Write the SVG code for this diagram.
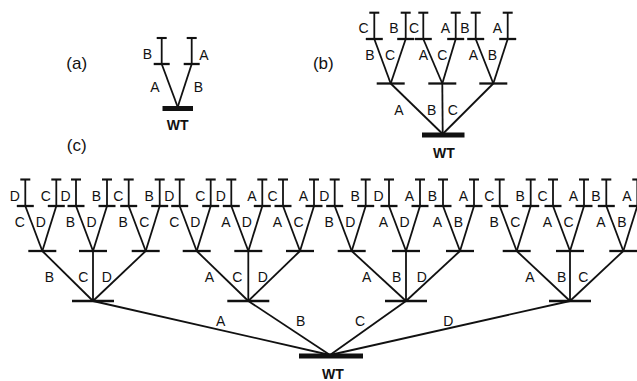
<svg xmlns="http://www.w3.org/2000/svg" width="637" height="381" viewBox="0 0 637 381">
<style>
.bar{stroke:#111;stroke-width:2.3;fill:none}
.tk{stroke:#111;stroke-width:2.1;fill:none}
.wt{stroke:#111;stroke-width:5;fill:none}
.e line{stroke:#111;stroke-width:1.8}
text{font-family:"Liberation Sans",Arial,sans-serif;font-size:14px;fill:#111;text-anchor:middle}
.wtl{font-weight:bold;font-size:14px}
.pl{font-size:17px}
</style>
<rect width="637" height="381" fill="#fff"/>
<!-- panel labels -->
<text class="pl" x="76.7" y="68.5">(a)</text>
<text class="pl" x="323.3" y="68.5">(b)</text>
<text class="pl" x="76.7" y="150.5">(c)</text>

<!-- ===== (a) ===== -->
<g id="a-connectors" class="e">
<line x1="177.7" y1="107" x2="161.7" y2="64"/>
<line x1="177.7" y1="107" x2="191.7" y2="64"/>
<line x1="161.7" y1="64" x2="161.7" y2="38"/>
<line x1="191.7" y1="64" x2="191.7" y2="38"/>
</g>
<g id="a-wt"><line class="wt" x1="162.5" y1="108.5" x2="193" y2="108.5"/><text class="wtl" x="177.7" y="130">WT</text></g>
<g id="a-A"><line class="bar" x1="153.7" y1="64" x2="169.7" y2="64"/></g>
<g id="a-B"><line class="bar" x1="183.7" y1="64" x2="199.7" y2="64"/></g>
<g id="a-AB"><line class="tk" x1="156.7" y1="38" x2="166.7" y2="38"/></g>
<g id="a-BA"><line class="tk" x1="186.7" y1="38" x2="196.7" y2="38"/></g>
<g id="a-labels">
<text x="147.3" y="59">B</text><text x="204" y="59.5">A</text>
<text x="155" y="92">A</text><text x="198.3" y="92">B</text>
</g>

<!-- ===== (b) ===== -->
<g id="b-connectors" class="e">
<line x1="442.7" y1="134" x2="390.7" y2="83.5"/>
<line x1="442.7" y1="134" x2="442.3" y2="83.5"/>
<line x1="442.7" y1="134" x2="493.3" y2="83.5"/>
<line x1="390.7" y1="83.5" x2="374.3" y2="39"/>
<line x1="390.7" y1="83.5" x2="405.7" y2="39"/>
<line x1="442.3" y1="83.5" x2="423.3" y2="39"/>
<line x1="442.3" y1="83.5" x2="455.7" y2="39"/>
<line x1="493.3" y1="83.5" x2="475.7" y2="39"/>
<line x1="493.3" y1="83.5" x2="507.7" y2="39"/>
<line x1="374.3" y1="39" x2="374.3" y2="12.7"/>
<line x1="405.7" y1="39" x2="405.7" y2="12.7"/>
<line x1="423.3" y1="39" x2="423.3" y2="12.7"/>
<line x1="455.7" y1="39" x2="455.7" y2="12.7"/>
<line x1="475.7" y1="39" x2="475.7" y2="12.7"/>
<line x1="507.7" y1="39" x2="507.7" y2="12.7"/>
</g>
<g id="b-wt"><line class="wt" x1="422" y1="135" x2="464.5" y2="135"/><text class="wtl" x="444" y="158">WT</text></g>
<g id="b-A"><line class="bar" x1="376.7" y1="83.5" x2="404.7" y2="83.5"/></g>
<g id="b-B"><line class="bar" x1="428.3" y1="83.5" x2="456.3" y2="83.5"/></g>
<g id="b-C"><line class="bar" x1="479.3" y1="83.5" x2="507.3" y2="83.5"/></g>
<g id="b-AB"><line class="bar" x1="365.8" y1="39" x2="382.8" y2="39"/></g>
<g id="b-AC"><line class="bar" x1="397.2" y1="39" x2="414.2" y2="39"/></g>
<g id="b-BA"><line class="bar" x1="414.8" y1="39" x2="431.8" y2="39"/></g>
<g id="b-BC"><line class="bar" x1="447.2" y1="39" x2="464.2" y2="39"/></g>
<g id="b-CA"><line class="bar" x1="467.2" y1="39" x2="484.2" y2="39"/></g>
<g id="b-CB"><line class="bar" x1="499.2" y1="39" x2="516.2" y2="39"/></g>
<g id="b-ABC"><line class="tk" x1="369.3" y1="12.7" x2="379.3" y2="12.7"/></g>
<g id="b-ACB"><line class="tk" x1="400.7" y1="12.7" x2="410.7" y2="12.7"/></g>
<g id="b-BAC"><line class="tk" x1="418.3" y1="12.7" x2="428.3" y2="12.7"/></g>
<g id="b-BCA"><line class="tk" x1="450.7" y1="12.7" x2="460.7" y2="12.7"/></g>
<g id="b-CAB"><line class="tk" x1="470.7" y1="12.7" x2="480.7" y2="12.7"/></g>
<g id="b-CBA"><line class="tk" x1="502.7" y1="12.7" x2="512.7" y2="12.7"/></g>
<g id="b-labels">
<text x="363.5" y="33">C</text><text x="394" y="33">B</text><text x="414" y="33">C</text><text x="445.5" y="33">A</text><text x="465" y="33">B</text><text x="497.5" y="33">A</text>
<text x="370" y="59.5">B</text><text x="390" y="59.5">C</text><text x="423.3" y="59.5">A</text><text x="442.3" y="59.5">C</text><text x="473.3" y="59.5">A</text><text x="492.3" y="59.5">B</text>
<text x="399" y="115">A</text><text x="431.7" y="115">B</text><text x="452.7" y="115">C</text>
</g>

<!-- ===== (c) ===== -->
<g id="c-connectors" class="e">
<line x1="330" y1="355" x2="93" y2="301"/>
<line x1="330" y1="355" x2="248.3" y2="301"/>
<line x1="330" y1="355" x2="406" y2="301"/>
<line x1="330" y1="355" x2="570" y2="301"/>
<line x1="93" y1="301" x2="42.3" y2="251"/><line x1="93" y1="301" x2="93" y2="251"/><line x1="93" y1="301" x2="145.7" y2="251"/>
<line x1="248.3" y1="301" x2="196.7" y2="251"/><line x1="248.3" y1="301" x2="248.3" y2="251"/><line x1="248.3" y1="301" x2="300" y2="251"/>
<line x1="406" y1="301" x2="351.7" y2="251"/><line x1="406" y1="301" x2="406" y2="251"/><line x1="406" y1="301" x2="460" y2="251"/>
<line x1="570" y1="301" x2="516.7" y2="251"/><line x1="570" y1="301" x2="570" y2="251"/><line x1="570" y1="301" x2="623.3" y2="251"/>
<line x1="42.3" y1="251" x2="25.3" y2="206"/><line x1="42.3" y1="251" x2="56.3" y2="206"/>
<line x1="93" y1="251" x2="76" y2="206"/><line x1="93" y1="251" x2="107" y2="206"/>
<line x1="145.7" y1="251" x2="128.7" y2="206"/><line x1="145.7" y1="251" x2="159.7" y2="206"/>
<line x1="196.7" y1="251" x2="179.7" y2="206"/><line x1="196.7" y1="251" x2="210.7" y2="206"/>
<line x1="248.3" y1="251" x2="231.3" y2="206"/><line x1="248.3" y1="251" x2="262.3" y2="206"/>
<line x1="300" y1="251" x2="283" y2="206"/><line x1="300" y1="251" x2="314" y2="206"/>
<line x1="351.7" y1="251" x2="334.7" y2="206"/><line x1="351.7" y1="251" x2="365.7" y2="206"/>
<line x1="406" y1="251" x2="389" y2="206"/><line x1="406" y1="251" x2="420" y2="206"/>
<line x1="460" y1="251" x2="443" y2="206"/><line x1="460" y1="251" x2="474" y2="206"/>
<line x1="516.7" y1="251" x2="499.7" y2="206"/><line x1="516.7" y1="251" x2="530.7" y2="206"/>
<line x1="570" y1="251" x2="553" y2="206"/><line x1="570" y1="251" x2="584" y2="206"/>
<line x1="623.3" y1="251" x2="606.3" y2="206"/><line x1="623.3" y1="251" x2="637.3" y2="206"/>
<line x1="25.3" y1="206" x2="25.3" y2="179.5"/><line x1="56.3" y1="206" x2="56.3" y2="179.5"/>
<line x1="76" y1="206" x2="76" y2="179.5"/><line x1="107" y1="206" x2="107" y2="179.5"/>
<line x1="128.7" y1="206" x2="128.7" y2="179.5"/><line x1="159.7" y1="206" x2="159.7" y2="179.5"/>
<line x1="179.7" y1="206" x2="179.7" y2="179.5"/><line x1="210.7" y1="206" x2="210.7" y2="179.5"/>
<line x1="231.3" y1="206" x2="231.3" y2="179.5"/><line x1="262.3" y1="206" x2="262.3" y2="179.5"/>
<line x1="283" y1="206" x2="283" y2="179.5"/><line x1="314" y1="206" x2="314" y2="179.5"/>
<line x1="334.7" y1="206" x2="334.7" y2="179.5"/><line x1="365.7" y1="206" x2="365.7" y2="179.5"/>
<line x1="389" y1="206" x2="389" y2="179.5"/><line x1="420" y1="206" x2="420" y2="179.5"/>
<line x1="443" y1="206" x2="443" y2="179.5"/><line x1="474" y1="206" x2="474" y2="179.5"/>
<line x1="499.7" y1="206" x2="499.7" y2="179.5"/><line x1="530.7" y1="206" x2="530.7" y2="179.5"/>
<line x1="553" y1="206" x2="553" y2="179.5"/><line x1="584" y1="206" x2="584" y2="179.5"/>
<line x1="606.3" y1="206" x2="606.3" y2="179.5"/><line x1="637.3" y1="206" x2="637.3" y2="179.5"/>
</g>
<g id="c-wt"><line class="wt" x1="299" y1="356" x2="363" y2="356"/><text class="wtl" x="333" y="379">WT</text></g>
<g id="c-A"><line class="bar" x1="72" y1="301" x2="114" y2="301"/></g>
<g id="c-B"><line class="bar" x1="227.3" y1="301" x2="269.3" y2="301"/></g>
<g id="c-C"><line class="bar" x1="385" y1="301" x2="427" y2="301"/></g>
<g id="c-D"><line class="bar" x1="549" y1="301" x2="591" y2="301"/></g>
<g id="c-AB"><line class="bar" x1="28.3" y1="251" x2="56.3" y2="251"/></g>
<g id="c-AC"><line class="bar" x1="79" y1="251" x2="107" y2="251"/></g>
<g id="c-AD"><line class="bar" x1="131.7" y1="251" x2="159.7" y2="251"/></g>
<g id="c-BA"><line class="bar" x1="182.7" y1="251" x2="210.7" y2="251"/></g>
<g id="c-BC"><line class="bar" x1="234.3" y1="251" x2="262.3" y2="251"/></g>
<g id="c-BD"><line class="bar" x1="286" y1="251" x2="314" y2="251"/></g>
<g id="c-CA"><line class="bar" x1="337.7" y1="251" x2="365.7" y2="251"/></g>
<g id="c-CB"><line class="bar" x1="392" y1="251" x2="420" y2="251"/></g>
<g id="c-CD"><line class="bar" x1="446" y1="251" x2="474" y2="251"/></g>
<g id="c-DA"><line class="bar" x1="502.7" y1="251" x2="530.7" y2="251"/></g>
<g id="c-DB"><line class="bar" x1="556" y1="251" x2="584" y2="251"/></g>
<g id="c-DC"><line class="bar" x1="609.3" y1="251" x2="637.3" y2="251"/></g>
<g id="c-ABC"><line class="bar" x1="16.8" y1="206" x2="33.8" y2="206"/></g>
<g id="c-ABD"><line class="bar" x1="47.8" y1="206" x2="64.8" y2="206"/></g>
<g id="c-ACB"><line class="bar" x1="67.5" y1="206" x2="84.5" y2="206"/></g>
<g id="c-ACD"><line class="bar" x1="98.5" y1="206" x2="115.5" y2="206"/></g>
<g id="c-ADB"><line class="bar" x1="120.2" y1="206" x2="137.2" y2="206"/></g>
<g id="c-ADC"><line class="bar" x1="151.2" y1="206" x2="168.2" y2="206"/></g>
<g id="c-BAC"><line class="bar" x1="171.2" y1="206" x2="188.2" y2="206"/></g>
<g id="c-BAD"><line class="bar" x1="202.2" y1="206" x2="219.2" y2="206"/></g>
<g id="c-BCA"><line class="bar" x1="222.8" y1="206" x2="239.8" y2="206"/></g>
<g id="c-BCD"><line class="bar" x1="253.8" y1="206" x2="270.8" y2="206"/></g>
<g id="c-BDA"><line class="bar" x1="274.5" y1="206" x2="291.5" y2="206"/></g>
<g id="c-BDC"><line class="bar" x1="305.5" y1="206" x2="322.5" y2="206"/></g>
<g id="c-CAB"><line class="bar" x1="326.2" y1="206" x2="343.2" y2="206"/></g>
<g id="c-CAD"><line class="bar" x1="357.2" y1="206" x2="374.2" y2="206"/></g>
<g id="c-CBA"><line class="bar" x1="380.5" y1="206" x2="397.5" y2="206"/></g>
<g id="c-CBD"><line class="bar" x1="411.5" y1="206" x2="428.5" y2="206"/></g>
<g id="c-CDA"><line class="bar" x1="434.5" y1="206" x2="451.5" y2="206"/></g>
<g id="c-CDB"><line class="bar" x1="465.5" y1="206" x2="482.5" y2="206"/></g>
<g id="c-DAB"><line class="bar" x1="491.2" y1="206" x2="508.2" y2="206"/></g>
<g id="c-DAC"><line class="bar" x1="522.2" y1="206" x2="539.2" y2="206"/></g>
<g id="c-DBA"><line class="bar" x1="544.5" y1="206" x2="561.5" y2="206"/></g>
<g id="c-DBC"><line class="bar" x1="575.5" y1="206" x2="592.5" y2="206"/></g>
<g id="c-DCA"><line class="bar" x1="597.8" y1="206" x2="614.8" y2="206"/></g>
<g id="c-DCB"><line class="bar" x1="628.8" y1="206" x2="645.8" y2="206"/></g>
<g id="c-ABCD"><line class="tk" x1="20.3" y1="179.5" x2="30.3" y2="179.5"/></g>
<g id="c-ABDC"><line class="tk" x1="51.3" y1="179.5" x2="61.3" y2="179.5"/></g>
<g id="c-ACBD"><line class="tk" x1="71" y1="179.5" x2="81" y2="179.5"/></g>
<g id="c-ACDB"><line class="tk" x1="102" y1="179.5" x2="112" y2="179.5"/></g>
<g id="c-ADBC"><line class="tk" x1="123.7" y1="179.5" x2="133.7" y2="179.5"/></g>
<g id="c-ADCB"><line class="tk" x1="154.7" y1="179.5" x2="164.7" y2="179.5"/></g>
<g id="c-BACD"><line class="tk" x1="174.7" y1="179.5" x2="184.7" y2="179.5"/></g>
<g id="c-BADC"><line class="tk" x1="205.7" y1="179.5" x2="215.7" y2="179.5"/></g>
<g id="c-BCAD"><line class="tk" x1="226.3" y1="179.5" x2="236.3" y2="179.5"/></g>
<g id="c-BCDA"><line class="tk" x1="257.3" y1="179.5" x2="267.3" y2="179.5"/></g>
<g id="c-BDAC"><line class="tk" x1="278" y1="179.5" x2="288" y2="179.5"/></g>
<g id="c-BDCA"><line class="tk" x1="309" y1="179.5" x2="319" y2="179.5"/></g>
<g id="c-CABD"><line class="tk" x1="329.7" y1="179.5" x2="339.7" y2="179.5"/></g>
<g id="c-CADB"><line class="tk" x1="360.7" y1="179.5" x2="370.7" y2="179.5"/></g>
<g id="c-CBAD"><line class="tk" x1="384" y1="179.5" x2="394" y2="179.5"/></g>
<g id="c-CBDA"><line class="tk" x1="415" y1="179.5" x2="425" y2="179.5"/></g>
<g id="c-CDAB"><line class="tk" x1="438" y1="179.5" x2="448" y2="179.5"/></g>
<g id="c-CDBA"><line class="tk" x1="469" y1="179.5" x2="479" y2="179.5"/></g>
<g id="c-DABC"><line class="tk" x1="494.7" y1="179.5" x2="504.7" y2="179.5"/></g>
<g id="c-DACB"><line class="tk" x1="525.7" y1="179.5" x2="535.7" y2="179.5"/></g>
<g id="c-DBAC"><line class="tk" x1="548" y1="179.5" x2="558" y2="179.5"/></g>
<g id="c-DBCA"><line class="tk" x1="579" y1="179.5" x2="589" y2="179.5"/></g>
<g id="c-DCAB"><line class="tk" x1="601.3" y1="179.5" x2="611.3" y2="179.5"/></g>
<g id="c-DCBA"><line class="tk" x1="632.3" y1="179.5" x2="642.3" y2="179.5"/></g>
<g id="c-labels">
<text x="14.8" y="201">D</text><text x="45.8" y="201">C</text><text x="65.5" y="201">D</text><text x="96.5" y="201">B</text><text x="118.2" y="201">C</text><text x="149.2" y="201">B</text>
<text x="169.2" y="201">D</text><text x="200.2" y="201">C</text><text x="220.8" y="201">D</text><text x="251.8" y="201">A</text><text x="272.5" y="201">C</text><text x="303.5" y="201">A</text>
<text x="324.2" y="201">D</text><text x="355.2" y="201">B</text><text x="378.5" y="201">D</text><text x="409.5" y="201">A</text><text x="432.5" y="201">B</text><text x="463.5" y="201">A</text>
<text x="489.2" y="201">C</text><text x="520.2" y="201">B</text><text x="542.5" y="201">C</text><text x="573.5" y="201">A</text><text x="595.8" y="201">B</text><text x="626.8" y="201">A</text>
<text x="19.8" y="227">C</text><text x="40.8" y="227">D</text><text x="70.5" y="227">B</text><text x="91.5" y="227">D</text><text x="123.2" y="227">B</text><text x="144.2" y="227">C</text>
<text x="174.2" y="227">C</text><text x="195.2" y="227">D</text><text x="225.8" y="227">A</text><text x="246.8" y="227">D</text><text x="277.5" y="227">A</text><text x="298.5" y="227">C</text>
<text x="329.2" y="227">B</text><text x="350.2" y="227">D</text><text x="383.5" y="227">A</text><text x="404.5" y="227">D</text><text x="437.5" y="227">A</text><text x="458.5" y="227">B</text>
<text x="494.2" y="227">B</text><text x="515.2" y="227">C</text><text x="547.5" y="227">A</text><text x="568.5" y="227">C</text><text x="600.8" y="227">A</text><text x="621.8" y="227">B</text>
<text x="49.3" y="282">B</text><text x="83.3" y="282">C</text><text x="106.7" y="282">D</text>
<text x="209.3" y="282">A</text><text x="237.3" y="282">C</text><text x="262.7" y="282">D</text>
<text x="366.7" y="282">A</text><text x="396.7" y="282">B</text><text x="421.7" y="282">D</text>
<text x="530" y="282">A</text><text x="561.7" y="282">B</text><text x="583.3" y="282">C</text>
<text x="220.7" y="326">A</text><text x="300.7" y="326">B</text><text x="360" y="326">C</text><text x="448.3" y="326">D</text>
</g>
</svg>
